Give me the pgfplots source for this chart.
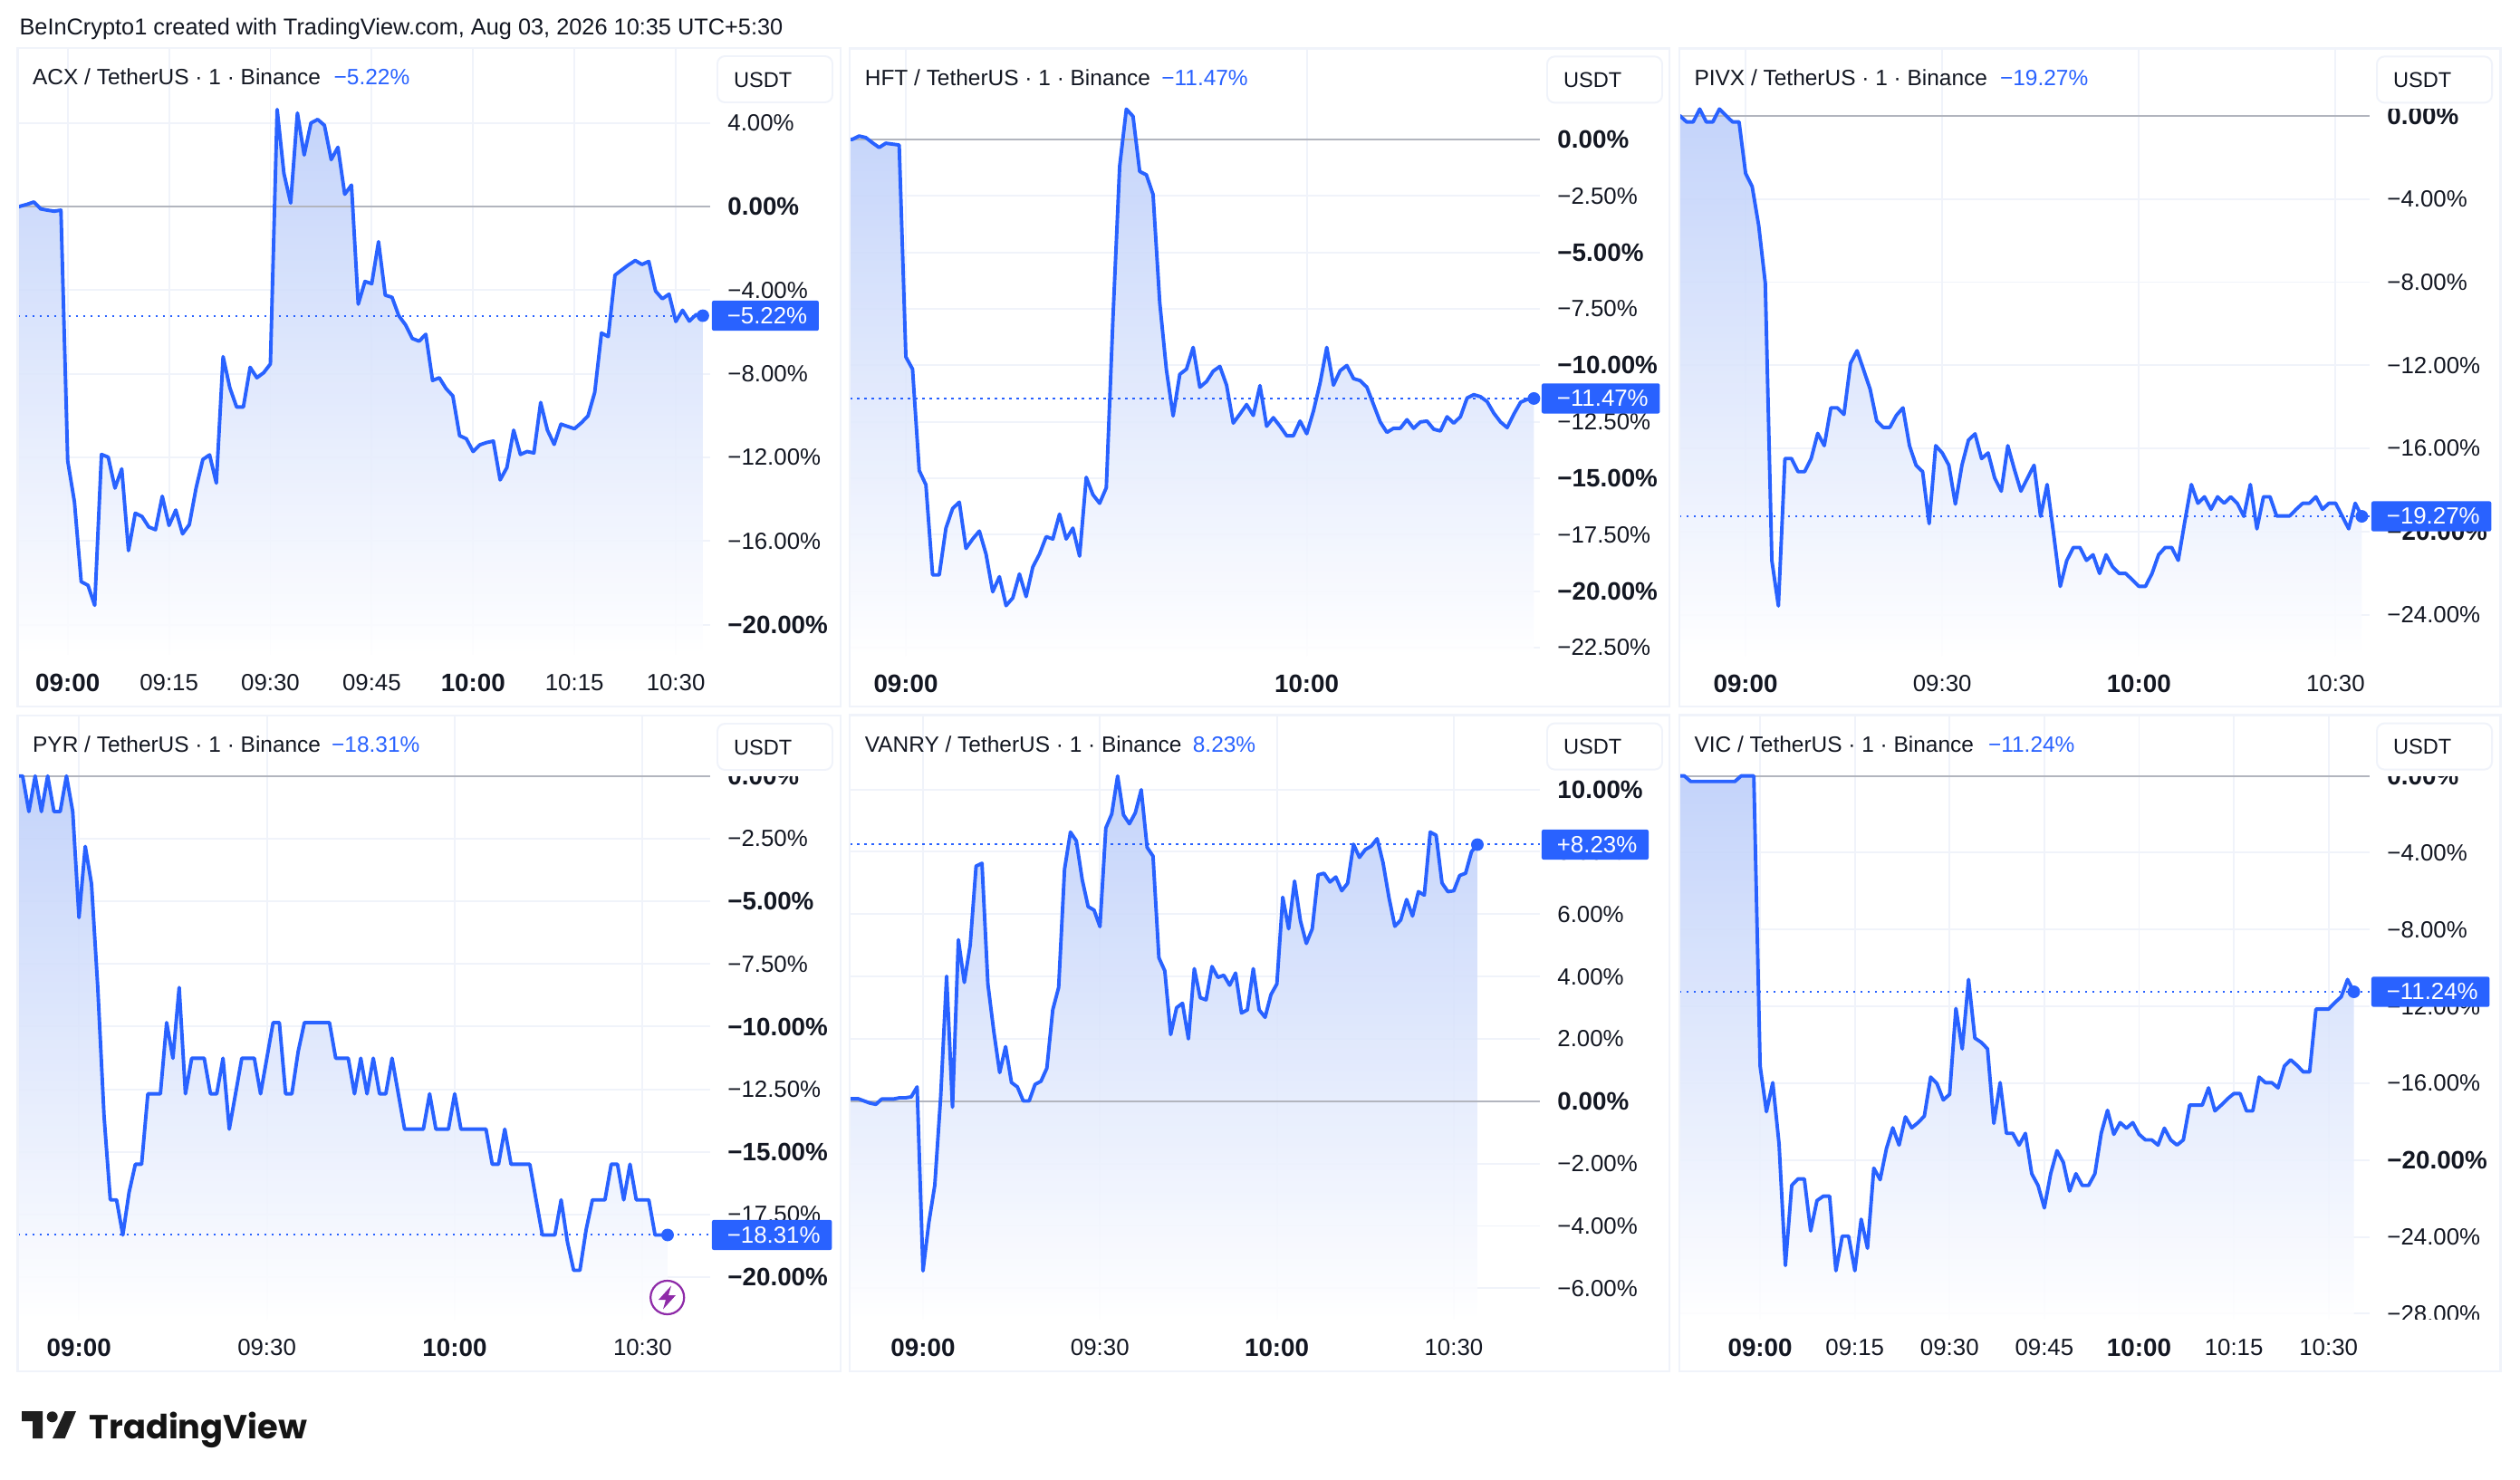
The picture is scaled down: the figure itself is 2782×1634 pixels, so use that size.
\documentclass[border=0pt]{standalone}
\usepackage{pgfplots}
\usepackage{pgfplotstable}
\usepackage{fontspec}
\setmainfont{Liberation Sans}
\newfontfamily\logof{Poppins}
\pgfplotsset{compat=1.18}
\definecolor{tvblue}{HTML}{2962FF}
\definecolor{tvink}{HTML}{131722}
\definecolor{tvgrid}{HTML}{F0F3FA}
\definecolor{tvzero}{HTML}{B2B5BE}
\definecolor{shtop}{HTML}{BCCEFA}
\definecolor{shbot}{HTML}{FFFFFF}
\definecolor{tvpurple}{HTML}{8E2AA8}
\newcommand{\fs}{\fontsize{9.3}{11}\selectfont}
\newcommand{\ft}{\fontsize{8.8}{11}\selectfont}
\newcommand{\bb}[1]{{\fontsize{10}{11}\selectfont\bfseries #1}}
\newcommand{\mn}{−}
\tikzset{px/.style={x=0.36pt,y=-0.36pt}}
\pgfplotsset{panel/.style={
  scale only axis, anchor=south west, clip=true,
  axis line style={draw=none}, tick style={draw=none}, major tick length=0pt,
  grid=major, major grid style={color=tvgrid, line width=0.7pt},
  ytick pos=right, yticklabel pos=right,
  y tick label style={anchor=west, inner sep=0pt, font=\fs, text=tvink},
  x tick label style={anchor=north, inner sep=0pt, font=\fs, text=tvink},
  yticklabel shift=6.8pt, xticklabel shift=7.5pt,
}}
\pgfplotsset{
  fillst/.style={draw=none, top color=shtop, bottom color=shbot, opacity=0.88, forget plot},
  zerost/.style={color=tvzero, line width=0.72pt, forget plot},
  dotst/.style={color=tvblue, line width=0.72pt, dash pattern=on 0.8pt off 2.08pt, forget plot},
  linest/.style={color=tvblue, line width=1.4pt, line join=round, forget plot},
  dotmk/.style={only marks, mark=*, mark size=2.3pt, color=tvblue, forget plot},
}
\pgfplotstableread[row sep=\\]{m v\\-8 -0.09\\-7 0.02\\-6 0.11\\-5 0.22\\-4 -0.11\\-3 -0.17\\-2 -0.22\\-1 -0.17\\0 -12.16\\1 -14.13\\2 -17.95\\3 -18.12\\4 -19.08\\5 -11.86\\6 -11.99\\7 -13.47\\8 -12.55\\9 -16.46\\10 -14.67\\11 -14.83\\12 -15.33\\13 -15.46\\14 -13.86\\15 -15.26\\16 -14.52\\17 -15.66\\18 -15.22\\19 -13.47\\20 -12.10\\21 -11.88\\22 -13.23\\23 -7.18\\24 -8.67\\25 -9.59\\26 -9.59\\27 -7.69\\28 -8.19\\29 -7.95\\30 -7.53\\31 4.65\\32 1.59\\33 0.17\\34 4.48\\35 2.47\\36 4.00\\37 4.17\\38 3.89\\39 2.25\\40 2.84\\41 0.59\\42 1.03\\43 -4.67\\44 -3.58\\45 -3.69\\46 -1.68\\47 -4.24\\48 -4.34\\49 -5.22\\50 -5.66\\51 -6.31\\52 -6.44\\53 -6.11\\54 -8.32\\55 -8.19\\56 -8.71\\57 -9.06\\58 -10.96\\59 -11.11\\60 -11.72\\61 -11.40\\62 -11.29\\63 -11.22\\64 -13.08\\65 -12.49\\66 -10.70\\67 -11.86\\68 -11.72\\69 -11.79\\70 -9.37\\71 -10.70\\72 -11.38\\73 -10.41\\74 -10.52\\75 -10.63\\76 -10.35\\77 -10.02\\78 -8.89\\79 -6.05\\80 -6.22\\81 -3.28\\82 -3.03\\83 -2.79\\84 -2.58\\85 -2.77\\86 -2.62\\87 -4.04\\88 -4.41\\89 -4.19\\90 -5.50\\91 -4.96\\92 -5.48\\93 -5.17\\94 -5.22\\}\tA
\pgfplotstableread[row sep=\\]{m v\\-9 0.00\\-8 0.00\\-7 0.15\\-6 0.08\\-5 -0.15\\-4 -0.36\\-3 -0.17\\-2 -0.21\\-1 -0.25\\0 -9.63\\1 -10.17\\2 -14.66\\3 -15.29\\4 -19.28\\5 -19.28\\6 -17.21\\7 -16.34\\8 -16.06\\9 -18.11\\10 -17.69\\11 -17.34\\12 -18.36\\13 -20.03\\14 -19.36\\15 -20.64\\16 -20.30\\17 -19.24\\18 -20.24\\19 -18.93\\20 -18.36\\21 -17.59\\22 -17.69\\23 -16.59\\24 -17.69\\25 -17.21\\26 -18.45\\27 -14.96\\28 -15.73\\29 -16.11\\30 -15.42\\31 -7.90\\32 -1.19\\33 1.34\\34 1.02\\35 -1.42\\36 -1.57\\37 -2.44\\38 -7.23\\39 -10.21\\40 -12.24\\41 -10.40\\42 -10.17\\43 -9.21\\44 -10.97\\45 -10.72\\46 -10.26\\47 -10.05\\48 -10.88\\49 -12.56\\50 -12.16\\51 -11.74\\52 -12.22\\53 -10.90\\54 -12.70\\55 -12.32\\56 -12.70\\57 -13.12\\58 -13.12\\59 -12.47\\60 -13.03\\61 -12.03\\62 -10.78\\63 -9.21\\64 -10.88\\65 -10.24\\66 -10.01\\67 -10.59\\68 -10.68\\69 -10.97\\70 -11.74\\71 -12.51\\72 -12.97\\73 -12.79\\74 -12.79\\75 -12.41\\76 -12.79\\77 -12.51\\78 -12.47\\79 -12.83\\80 -12.91\\81 -12.28\\82 -12.56\\83 -12.28\\84 -11.45\\85 -11.30\\86 -11.39\\87 -11.61\\88 -12.12\\89 -12.51\\90 -12.76\\91 -12.16\\92 -11.64\\93 -11.51\\94 -11.47\\}\tB
\pgfplotstableread[row sep=\\]{m v\\-11 0\\-10 0\\-9 -0.29\\-8 -0.29\\-7 0.33\\-6 -0.29\\-5 -0.29\\-4 0.33\\-3 0.02\\-2 -0.29\\-1 -0.29\\0 -2.77\\1 -3.40\\2 -5.28\\3 -8.05\\4 -21.39\\5 -23.58\\6 -16.49\\7 -16.49\\8 -17.12\\9 -17.12\\10 -16.49\\11 -15.28\\12 -15.87\\13 -14.05\\14 -14.05\\15 -14.37\\16 -11.91\\17 -11.30\\18 -12.22\\19 -13.16\\20 -14.68\\21 -14.99\\22 -14.99\\23 -14.41\\24 -14.05\\25 -15.87\\26 -16.81\\27 -17.12\\28 -19.62\\29 -15.87\\30 -16.22\\31 -16.81\\32 -18.68\\33 -16.81\\34 -15.60\\35 -15.30\\36 -16.49\\37 -16.22\\38 -17.43\\39 -18.06\\40 -15.87\\41 -17.01\\42 -18.06\\43 -17.43\\44 -16.81\\45 -19.27\\46 -17.74\\47 -20.14\\48 -22.64\\49 -21.39\\50 -20.77\\51 -20.77\\52 -21.39\\53 -21.12\\54 -22.02\\55 -21.12\\56 -21.71\\57 -22.02\\58 -22.02\\59 -22.33\\60 -22.64\\61 -22.64\\62 -22.02\\63 -21.12\\64 -20.77\\65 -20.77\\66 -21.39\\67 -19.52\\68 -17.74\\69 -18.64\\70 -18.33\\71 -18.93\\72 -18.33\\73 -18.64\\74 -18.33\\75 -18.64\\76 -19.27\\77 -17.74\\78 -19.87\\79 -18.33\\80 -18.33\\81 -19.25\\82 -19.25\\83 -19.25\\84 -18.93\\85 -18.64\\86 -18.64\\87 -18.33\\88 -18.93\\89 -18.64\\90 -18.64\\91 -19.25\\92 -19.87\\93 -18.64\\94 -19.27\\}\tC
\pgfplotstableread[row sep=\\]{m v\\-10 0\\-9 0\\-8 -1.42\\-7 0\\-6 -1.42\\-5 0\\-4 -1.42\\-3 -1.42\\-2 0\\-1 -1.42\\0 -5.65\\1 -2.81\\2 -4.31\\3 -8.44\\4 -13.56\\5 -16.91\\6 -16.91\\7 -18.31\\8 -16.61\\9 -15.49\\10 -15.49\\11 -12.68\\12 -12.68\\13 -12.68\\14 -9.84\\15 -11.26\\16 -8.44\\17 -12.68\\18 -11.26\\19 -11.26\\20 -11.26\\21 -12.68\\22 -12.68\\23 -11.26\\24 -14.09\\25 -12.68\\26 -11.26\\27 -11.26\\28 -11.26\\29 -12.68\\30 -11.26\\31 -9.84\\32 -9.84\\33 -12.68\\34 -12.68\\35 -11.00\\36 -9.84\\37 -9.84\\38 -9.84\\39 -9.84\\40 -9.84\\41 -11.26\\42 -11.26\\43 -11.26\\44 -12.68\\45 -11.26\\46 -12.68\\47 -11.26\\48 -12.68\\49 -12.68\\50 -11.26\\51 -12.68\\52 -14.09\\53 -14.09\\54 -14.09\\55 -14.09\\56 -12.68\\57 -14.09\\58 -14.09\\59 -14.09\\60 -12.68\\61 -14.09\\62 -14.09\\63 -14.09\\64 -14.09\\65 -14.09\\66 -15.49\\67 -15.49\\68 -14.09\\69 -15.49\\70 -15.49\\71 -15.49\\72 -15.49\\73 -16.91\\74 -18.31\\75 -18.31\\76 -18.31\\77 -16.91\\78 -18.58\\79 -19.72\\80 -19.72\\81 -18.09\\82 -16.91\\83 -16.91\\84 -16.91\\85 -15.49\\86 -15.49\\87 -16.91\\88 -15.49\\89 -16.91\\90 -16.91\\91 -16.91\\92 -18.31\\93 -18.31\\94 -18.31\\}\tD
\pgfplotstableread[row sep=\\]{m v\\-13 0.08\\-12 0.08\\-11 0.08\\-10 0.01\\-9 -0.06\\-8 -0.10\\-7 0.07\\-6 0.07\\-5 0.07\\-4 0.11\\-3 0.11\\-2 0.14\\-1 0.46\\0 -5.44\\1 -3.88\\2 -2.69\\3 0.15\\4 4.01\\5 -0.19\\6 5.18\\7 3.81\\8 5.01\\9 7.54\\10 7.63\\11 3.76\\12 2.24\\13 0.92\\14 1.75\\15 0.60\\16 0.46\\17 0.01\\18 0.01\\19 0.54\\20 0.64\\21 1.06\\22 2.93\\23 3.65\\24 7.44\\25 8.63\\26 8.35\\27 7.10\\28 6.24\\29 6.13\\30 5.60\\31 8.76\\32 9.21\\33 10.43\\34 9.18\\35 8.90\\36 9.25\\37 9.99\\38 8.14\\39 7.86\\40 4.60\\41 4.18\\42 2.14\\43 3.00\\44 3.14\\45 2.00\\46 4.25\\47 3.32\\48 3.25\\49 4.32\\50 3.97\\51 4.04\\52 3.72\\53 4.11\\54 2.83\\55 2.93\\56 4.25\\57 2.93\\58 2.69\\59 3.42\\60 3.76\\61 6.54\\62 5.53\\63 7.06\\64 5.78\\65 5.06\\66 5.53\\67 7.26\\68 7.31\\69 7.03\\70 7.19\\71 6.75\\72 6.99\\73 8.24\\74 7.82\\75 8.07\\76 8.18\\77 8.42\\78 7.65\\79 6.54\\80 5.61\\81 5.81\\82 6.47\\83 5.94\\84 6.72\\85 6.61\\86 8.63\\87 8.53\\88 7.00\\89 6.72\\90 6.75\\91 7.24\\92 7.31\\93 8.00\\94 8.23\\}\tE
\pgfplotstableread[row sep=\\]{m v\\-13 0\\-12 0\\-11 -0.29\\-10 -0.29\\-9 -0.29\\-8 -0.29\\-7 -0.29\\-6 -0.29\\-5 -0.29\\-4 -0.29\\-3 0\\-2 0\\-1 0\\0 -15.11\\1 -17.48\\2 -15.97\\3 -19.17\\4 -25.49\\5 -21.32\\6 -20.98\\7 -20.98\\8 -23.69\\9 -22.11\\10 -21.88\\11 -21.88\\12 -25.76\\13 -23.96\\14 -23.96\\15 -25.76\\16 -23.08\\17 -24.59\\18 -20.42\\19 -21.02\\20 -19.40\\21 -18.32\\22 -19.22\\23 -17.75\\24 -18.32\\25 -18.05\\26 -17.71\\27 -15.68\\28 -16.02\\29 -16.87\\30 -16.58\\31 -12.11\\32 -14.21\\33 -10.60\\34 -13.65\\35 -13.87\\36 -14.21\\37 -18.09\\38 -15.97\\39 -18.61\\40 -18.61\\41 -19.22\\42 -18.61\\43 -20.71\\44 -21.32\\45 -22.49\\46 -20.71\\47 -19.51\\48 -20.12\\49 -21.61\\50 -20.71\\51 -21.32\\52 -21.32\\53 -20.71\\54 -18.61\\55 -17.41\\56 -18.66\\57 -18.05\\58 -18.34\\59 -18.05\\60 -18.66\\61 -18.95\\62 -18.95\\63 -19.22\\64 -18.34\\65 -18.95\\66 -19.22\\67 -18.95\\68 -17.14\\69 -17.14\\70 -17.14\\71 -16.24\\72 -17.44\\73 -17.14\\74 -16.81\\75 -16.54\\76 -16.54\\77 -17.44\\78 -17.44\\79 -15.68\\80 -15.97\\81 -15.97\\82 -16.24\\83 -15.11\\84 -14.78\\85 -15.07\\86 -15.41\\87 -15.41\\88 -12.14\\89 -12.14\\90 -12.14\\91 -11.80\\92 -11.50\\93 -10.60\\94 -11.24\\}\tF
% one panel's furniture, drawn after its axis: frame left/top/right/bottom, axis right, title, value offset, value, coordinate; \bt = box text
\newcommand{\furn}[9]{%
  \begin{scope}[px]
  \fill[white] (#5+2,#2+1.5) rectangle (#3-2,#2+67);
  \fill[white] (#5+2,#4-57) rectangle (#3-2,#4-2) ;
  \draw[tvgrid,line width=0.8pt] (#1,#2) rectangle (#3,#4);
  \draw[tvgrid,line width=0.7pt,rounded corners=3pt,fill=white] (#5+8,#2+9) rectangle (#5+135,#2+60);
  \node[anchor=west,inner sep=0pt,font=\fontsize{8.5}{11}\selectfont,text=tvink] at (#5+25.5,#2+35) {USDT};
  \node[anchor=west,inner sep=0pt,font=\ft,text=tvink] at (#1+16,#2+34.5) {#6\strut};
  \node[anchor=west,inner sep=0pt,font=\ft,text=tvblue] at (#1+#7,#2+34.5) {#8\strut};
  \end{scope}
  \node[anchor=west,fill=tvblue,rounded corners=0.8pt,inner xsep=6.1pt,inner ysep=0pt,minimum height=12pt,font=\fs,text=white] at ([xshift=0.5pt]#9) {\bt\hspace*{-1.5pt}};
}
\begin{document}
\begin{tikzpicture}
\begin{scope}[px]
\path[use as bounding box,fill=white] (0,0) rectangle (2782,1634);
\node[anchor=west,inner sep=0pt,font=\fontsize{9.12}{11}\selectfont,text=tvink] at (21,32) {BeInCrypto1 created with TradingView.com, Aug 03, 2026 10:35 UTC+5:30};
\end{scope}
%
\begin{axis}[panel, at={(7.056pt,-260.28pt)}, width=275.18pt, height=241.2pt,
  xmin=-7.39, xmax=95.08, ymin=-21.45, ymax=7.59,
  xtick={0,15,30,45,60,75,90}, xticklabels={\bb{09:00},09:15,09:30,09:45,\bb{10:00},10:15,10:30},
  ytick={4,0,-4,-8,-12,-16,-20}, yticklabels={4.00\%,\bb{0.00\%},\mn4.00\%,\mn8.00\%,\mn12.00\%,\mn16.00\%,\bb{\mn20.00\%}}]
\addplot[fillst] table[x=m,y=v]{\tA} |- (axis cs:-8,-21.45) -- cycle;
\addplot[zerost] coordinates {(-7.39,0)(95.08,0)};
\addplot[dotst] coordinates {(-7.39,-5.22)(95.08,-5.22)};
\addplot[linest] table[x=m,y=v]{\tA};
\addplot[dotmk] coordinates {(94,-5.22)};
\coordinate (p1) at (axis cs:95.08,-5.22);
\end{axis}
\def\bt{\mn5.22\%}
\furn{19.6}{53}{928}{780}{784}{ACX / TetherUS · 1 · Binance}{348.5}{\mn5.22\%}{p1}
%
\begin{axis}[panel, at={(337.788pt,-260.64pt)}, width=274.21pt, height=241.42pt,
  xmin=-8.37, xmax=94.9, ymin=-22.86, ymax=4.03,
  xtick={0,60}, xticklabels={\bb{09:00},\bb{10:00}},
  ytick={0,-2.5,-5,-7.5,-10,-12.5,-15,-17.5,-20,-22.5},
  yticklabels={\bb{0.00\%},\mn2.50\%,\bb{\mn5.00\%},\mn7.50\%,\bb{\mn10.00\%},\mn12.50\%,\bb{\mn15.00\%},\mn17.50\%,\bb{\mn20.00\%},\mn22.50\%}]
\addplot[fillst] table[x=m,y=v]{\tB} |- (axis cs:-9,-22.86) -- cycle;
\addplot[zerost] coordinates {(-8.37,0)(94.9,0)};
\addplot[dotst] coordinates {(-8.37,-11.47)(94.9,-11.47)};
\addplot[linest] table[x=m,y=v]{\tB};
\addplot[dotmk] coordinates {(94,-11.47)};
\coordinate (p2) at (axis cs:94.9,-11.47);
\end{axis}
\def\bt{\mn11.47\%}
\furn{938.3}{53.4}{1843}{780}{1700}{HFT / TetherUS · 1 · Binance}{343.5}{\mn11.47\%}{p2}
%
\begin{axis}[panel, at={(667.44pt,-260.64pt)}, width=274.32pt, height=241.42pt,
  xmin=-10.1, xmax=95.2, ymin=-25.98, ymax=3.25,
  xtick={0,30,60,90}, xticklabels={\bb{09:00},09:30,\bb{10:00},10:30},
  ytick={0,-4,-8,-12,-16,-20,-24},
  yticklabels={\bb{0.00\%},\mn4.00\%,\mn8.00\%,\mn12.00\%,\mn16.00\%,\bb{\mn20.00\%},\mn24.00\%}]
\addplot[fillst] table[x=m,y=v]{\tC} |- (axis cs:-11,-25.98) -- cycle;
\addplot[zerost] coordinates {(-10.1,0)(95.2,0)};
\addplot[dotst] coordinates {(-10.1,-19.27)(95.2,-19.27)};
\addplot[linest] table[x=m,y=v]{\tC};
\addplot[dotmk] coordinates {(94,-19.27)};
\coordinate (p3) at (axis cs:95.2,-19.27);
\end{axis}
\def\bt{\mn19.27\%}
\furn{1854}{53.4}{2760.4}{780}{2616}{PIVX / TetherUS · 1 · Binance}{353.5}{\mn19.27\%}{p3}
%
\begin{axis}[panel, at={(7.056pt,-524.52pt)}, width=275.18pt, height=240.12pt,
  xmin=-9.78, xmax=100.8, ymin=-21.69, ymax=2.41,
  xtick={0,30,60,90}, xticklabels={\bb{09:00},09:30,\bb{10:00},10:30},
  ytick={0,-2.5,-5,-7.5,-10,-12.5,-15,-17.5,-20},
  yticklabels={\bb{0.00\%},\mn2.50\%,\bb{\mn5.00\%},\mn7.50\%,\bb{\mn10.00\%},\mn12.50\%,\bb{\mn15.00\%},\mn17.50\%,\bb{\mn20.00\%}}]
\addplot[fillst] table[x=m,y=v]{\tD} |- (axis cs:-10,-21.69) -- cycle;
\addplot[zerost] coordinates {(-9.78,0)(100.8,0)};
\addplot[dotst] coordinates {(-9.78,-18.31)(100.8,-18.31)};
\addplot[linest] table[x=m,y=v]{\tD};
\addplot[dotmk] coordinates {(94,-18.31)};
\coordinate (p4) at (axis cs:100.8,-18.31);
\end{axis}
\def\bt{\mn18.31\%}
\furn{19.6}{790}{928}{1514}{784}{PYR / TetherUS · 1 · Binance}{346}{\mn18.31\%}{p4}
\begin{scope}[px]
\draw[tvpurple,line width=0.8pt] (736.7,1432.5) circle[radius=18.5];
\fill[tvpurple] (741,1419.5)--(727,1435)--(735,1435)--(732,1445.5)--(746,1430)--(738,1430)--cycle;
\end{scope}
%
\begin{axis}[panel, at={(337.788pt,-524.448pt)}, width=274.21pt, height=240.19pt,
  xmin=-12.39, xmax=104.6, ymin=-7.0, ymax=12.38,
  xtick={0,30,60,90}, xticklabels={\bb{09:00},09:30,\bb{10:00},10:30},
  ytick={10,8,6,4,2,0,-2,-4,-6},
  yticklabels={\bb{10.00\%},8.00\%,6.00\%,4.00\%,2.00\%,\bb{0.00\%},\mn2.00\%,\mn4.00\%,\mn6.00\%}]
\addplot[fillst] table[x=m,y=v]{\tE} |- (axis cs:-13,-7) -- cycle;
\addplot[zerost] coordinates {(-12.39,0)(104.6,0)};
\addplot[dotst] coordinates {(-12.39,8.23)(104.6,8.23)};
\addplot[linest] table[x=m,y=v]{\tE};
\addplot[dotmk] coordinates {(94,8.23)};
\coordinate (p5) at (axis cs:104.6,8.23);
\end{axis}
\def\bt{+8.23\%}
\furn{938.3}{789.6}{1843}{1514}{1700}{VANRY / TetherUS · 1 · Binance}{378}{8.23\%}{p5}
%
\begin{axis}[panel, at={(667.44pt,-524.448pt)}, width=274.32pt, height=240.19pt,
  xmin=-12.78, xmax=96.5, ymin=-28.3, ymax=3.16,
  xtick={0,15,30,45,60,75,90}, xticklabels={\bb{09:00},09:15,09:30,09:45,\bb{10:00},10:15,10:30},
  ytick={0,-4,-8,-12,-16,-20,-24,-28},
  yticklabels={\bb{0.00\%},\mn4.00\%,\mn8.00\%,\mn12.00\%,\mn16.00\%,\bb{\mn20.00\%},\mn24.00\%,\mn28.00\%}]
\addplot[fillst] table[x=m,y=v]{\tF} |- (axis cs:-13,-28.3) -- cycle;
\addplot[zerost] coordinates {(-12.78,0)(96.5,0)};
\addplot[dotst] coordinates {(-12.78,-11.24)(96.5,-11.24)};
\addplot[linest] table[x=m,y=v]{\tF};
\addplot[dotmk] coordinates {(94,-11.24)};
\coordinate (p6) at (axis cs:96.5,-11.24);
\end{axis}
\def\bt{\mn11.24\%}
\furn{1854}{789.6}{2760.4}{1514}{2616}{VIC / TetherUS · 1 · Binance}{340.5}{\mn11.24\%}{p6}
% logo
\begin{scope}[px]
\fill[black!88] (24,1558)--(47,1558)--(47,1588)--(36,1588)--(36,1569)--(24,1569)--cycle;
\fill[black!88] (57.7,1564.3) circle[radius=6];
\fill[black!88] (71.7,1558)--(84,1558)--(71.7,1588)--(58,1588)--cycle;
\node[anchor=base west,inner sep=0pt,font=\fontsize{13.25}{18}\selectfont\logof\bfseries,text=black!92] at (98,1588) {TradingView};
\end{scope}
\end{tikzpicture}
\end{document}
